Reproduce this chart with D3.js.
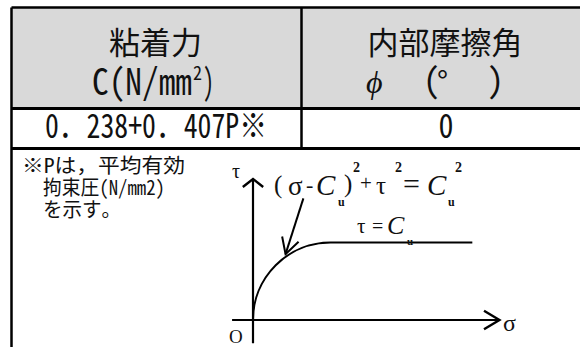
<!DOCTYPE html>
<html><head><meta charset="utf-8">
<script src="https://cdn.jsdelivr.net/npm/d3@7"></script>
<style>
html,body{margin:0;padding:0;background:#fff;}
svg{display:block;}
</style></head>
<body>
<svg id="c" width="580" height="347"></svg>
<script>
// ---- table content ----
const headerLine1 = ["粘着力", "内部摩擦角"];
const headerUnitC = ["C(N/mm", "2", ")"];
const headerUnitPhi = ["ϕ", "(", "°", ")"];
const rowValues = ["0．238+0．407P※", "0"];
const noteLines = ["※Pは，平均有効", "拘束圧(N/mm2)", "を示す。"];

// ---- diagram content (Mohr-Coulomb with φ=0: τ = Cu) ----
const Cu = 1;
const sigmaAxisExtent = [-0.27, 3.18];
const tauAxisExtent = [-0.3, 1.82];
const plateauEnd = 2.83;
const pointerFrom = [0.65, 1.57];
const pointerTo = [0.42, 0.85];

const svg = d3.select("#c");
const jp = "'Noto Sans Mono CJK JP','Noto Sans CJK JP',sans-serif";
const serif = "'Liberation Serif','DejaVu Serif',serif";

// table geometry
const L = 11.5, R = 590, T = 7.5, H1 = 108.5, H2 = 148.5, B = 360, MID = 301.5;
const col = [ (L+MID)/2 - 1, 445 ];

svg.append("rect").attr("x", L).attr("y", T).attr("width", R-L).attr("height", H1-T)
  .attr("fill", "#d9d9d9");

const lines = [
  [L, T, R, T, 2.5], [L, T, L, B, 2.5], [L, H1, R, H1, 3], [L, H2, R, H2, 3], [MID, T, MID, H2, 2.5]
];
svg.selectAll("line.grid").data(lines).join("line").attr("class","grid")
  .attr("x1", d=>d[0]).attr("y1", d=>d[1]).attr("x2", d=>d[2]).attr("y2", d=>d[3])
  .attr("stroke", "#000").attr("stroke-width", d=>d[4]);

// header line 1
svg.selectAll("text.h1").data(headerLine1).join("text").attr("class","h1")
  .attr("x", (d,i)=>col[i]).attr("y", 54).attr("text-anchor","middle")
  .attr("font-family", jp).attr("font-size", 31).attr("fill","#111").text(d=>d);

// header unit C(N/mm2)
const g = svg.append("g").attr("font-family", jp).attr("fill", "#111");
g.append("text").attr("x", 92).attr("y", 95).attr("font-size", 36)
  .attr("textLength", 100).attr("lengthAdjust","spacingAndGlyphs").text(headerUnitC[0]);
g.append("text").attr("x", 193).attr("y", 80).attr("font-size", 19)
  .attr("textLength", 9).attr("lengthAdjust","spacingAndGlyphs").text(headerUnitC[1]);
g.append("text").attr("x", 203).attr("y", 95).attr("font-size", 36)
  .attr("textLength", 11).attr("lengthAdjust","spacingAndGlyphs").text(headerUnitC[2]);

// header unit ϕ (°) — one text, positioned tspans
const phiPos = [[366, 93, 32, serif, "italic"], [423, 93, 34, jp, "normal"], [437, 93, 30, jp, "normal"], [487, 93, 34, jp, "normal"]];
const phiText = g.append("text");
phiText.selectAll("tspan").data(headerUnitPhi).join("tspan")
  .attr("x", (d,i)=>phiPos[i][0]).attr("y", (d,i)=>phiPos[i][1])
  .attr("font-size", (d,i)=>phiPos[i][2]).attr("font-family", (d,i)=>phiPos[i][3])
  .attr("font-style", (d,i)=>phiPos[i][4]).text(d=>d);

// row 2
g.append("text").attr("x", 45).attr("y", 138).attr("font-size", 34)
  .attr("textLength", 222).attr("lengthAdjust","spacingAndGlyphs").text(rowValues[0]);
g.append("text").attr("x", 446).attr("y", 138).attr("font-size", 34).attr("text-anchor","middle")
  .attr("textLength", 15).attr("lengthAdjust","spacingAndGlyphs").text(rowValues[1]);

// note
const notePos = [[22, 173, 163], [43, 195, 122], [43, 217, 78]];
g.selectAll("text.note").data(noteLines).join("text").attr("class","note")
  .attr("x", (d,i)=>notePos[i][0]).attr("y", (d,i)=>notePos[i][1])
  .attr("font-size", 20).attr("textLength", (d,i)=>notePos[i][2])
  .attr("lengthAdjust","spacingAndGlyphs").text(d=>d);

// ---- diagram ----
const x = d3.scaleLinear().domain([0, Cu]).range([253, 330.5]);
const y = d3.scaleLinear().domain([0, Cu]).range([320, 242.5]);
const dg = svg.append("g").attr("fill","none").attr("stroke","#000");

// axes
dg.append("line").attr("x1", x(sigmaAxisExtent[0])).attr("y1", y(0))
  .attr("x2", x(sigmaAxisExtent[1])).attr("y2", y(0)).attr("stroke-width", 2.2);
dg.append("line").attr("x1", x(0)).attr("y1", y(tauAxisExtent[0]))
  .attr("x2", x(0)).attr("y2", y(tauAxisExtent[1])).attr("stroke-width", 2.2);

function vHead(tx, ty, ang, len, spread) {
  const p = d3.path();
  const a1 = ang + Math.PI - spread, a2 = ang + Math.PI + spread;
  p.moveTo(tx + len*Math.cos(a1), ty + len*Math.sin(a1));
  p.lineTo(tx, ty);
  p.lineTo(tx + len*Math.cos(a2), ty + len*Math.sin(a2));
  return p.toString();
}
dg.append("path").attr("d", vHead(x(sigmaAxisExtent[1]), y(0), 0, 18, 0.54)).attr("stroke-width", 2.4);
dg.append("path").attr("d", vHead(x(0), y(tauAxisExtent[1]), -Math.PI/2, 13, 0.9)).attr("stroke-width", 2.4);

// failure envelope: quarter circle then plateau τ = Cu
const r = x(Cu) - x(0);
const env = d3.path();
env.moveTo(x(0), y(0));
env.arc(x(Cu), y(0), r, Math.PI, 1.5*Math.PI, false);
env.lineTo(x(plateauEnd), y(Cu));
dg.append("path").attr("d", env.toString()).attr("stroke-width", 2);

// pointer arrow
const pf = [x(pointerFrom[0]), y(pointerFrom[1])], pt = [x(pointerTo[0]), y(pointerTo[1])];
dg.append("line").attr("x1", pf[0]).attr("y1", pf[1]).attr("x2", pt[0]).attr("y2", pt[1]).attr("stroke-width", 2);
const pang = Math.atan2(pt[1]-pf[1], pt[0]-pf[0]);
dg.append("path").attr("d", vHead(pt[0], pt[1], pang, 18, 0.5)).attr("stroke-width", 2);

// diagram labels
const tg = svg.append("g").attr("font-family", serif).attr("fill", "#111");
tg.append("text").attr("x", 232).attr("y", 178).attr("font-size", 20).text("τ");
tg.append("text").attr("x", 503).attr("y", 331).attr("font-size", 24).text("σ");
tg.append("text").attr("x", 229).attr("y", 343).attr("font-size", 19).text("O");

const formula1 = [
  ["(", 274, 193, 25, "normal", "normal"],
  ["σ", 288, 195, 27, "normal", "normal"],
  ["-", 306, 192, 22, "normal", "normal"],
  ["C", 316, 195, 29, "italic", "normal"],
  ["u", 338, 206, 12, "normal", "bold"],
  [")", 344, 192, 25, "normal", "normal"],
  ["2", 353, 172, 14, "normal", "bold"],
  ["+", 360, 190, 21, "normal", "normal"],
  ["τ", 376, 194, 25, "normal", "normal"],
  ["2", 395, 172, 14, "normal", "bold"],
  ["=", 403, 194, 30, "normal", "normal"],
  ["C", 427, 195, 29, "italic", "normal"],
  ["u", 448, 206, 12, "normal", "bold"],
  ["2", 455, 172, 14, "normal", "bold"]
];
const formula2 = [
  ["τ", 357, 233, 21, "normal", "normal"],
  ["=", 372, 233, 20, "normal", "normal"],
  ["C", 387, 234, 26, "italic", "normal"],
  ["u", 407, 245, 11, "normal", "bold"]
];
[formula1, formula2].forEach(f => {
  tg.append("text").selectAll("tspan").data(f).join("tspan")
    .attr("x", d=>d[1]).attr("y", d=>d[2]).attr("font-size", d=>d[3])
    .attr("font-style", d=>d[4]).attr("font-weight", d=>d[5]).text(d=>d[0]);
});
</script>
</body></html>
